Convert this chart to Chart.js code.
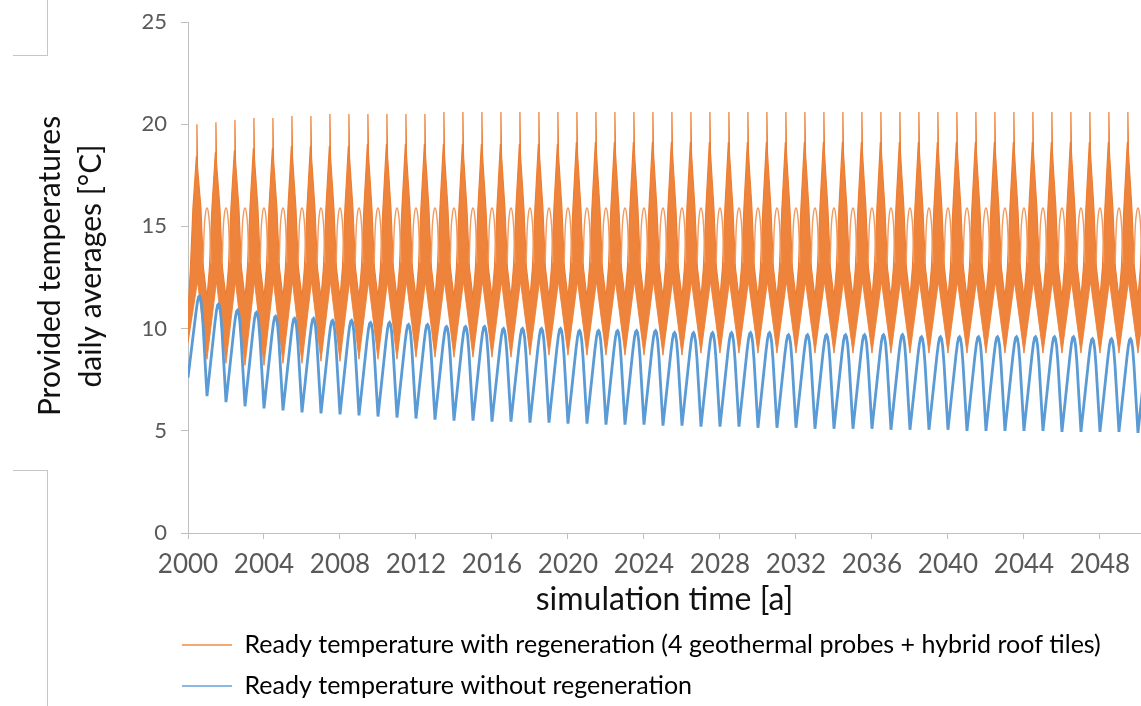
<!DOCTYPE html>
<html>
<head>
<meta charset="utf-8">
<title>Provided temperatures</title>
<script src="https://cdn.jsdelivr.net/npm/chart.js@4.4.1/dist/chart.umd.min.js"></script>
<style>
  html, body { margin: 0; padding: 0; background: #fff; }
  #wrap { position: relative; width: 1141px; height: 706px; }
  .edge { position: absolute; background: #c6c6c6; }
</style>
</head>
<body>
<div id="wrap">
  <canvas id="myChart" width="1141" height="706"></canvas>
  <div class="edge" style="left:47px;top:0;width:1px;height:55px"></div>
  <div class="edge" style="left:13px;top:55px;width:35px;height:1px"></div>
  <div class="edge" style="left:13px;top:470px;width:35px;height:1px"></div>
  <div class="edge" style="left:47px;top:470px;width:1px;height:236px"></div>
</div>
<script>
// one entry per simulated year (cycle starts at the year boundary)
const years = [2000, 2001, 2002, 2003, 2004, 2005, 2006, 2007, 2008, 2009,
  2010, 2011, 2012, 2013, 2014, 2015, 2016, 2017, 2018, 2019,
  2020, 2021, 2022, 2023, 2024, 2025, 2026, 2027, 2028, 2029,
  2030, 2031, 2032, 2033, 2034, 2035, 2036, 2037, 2038, 2039,
  2040, 2041, 2042, 2043, 2044, 2045, 2046, 2047, 2048, 2049, 2050];

// with regeneration (orange): winter low, summer body top, short summer spike
const orangeTrough = [9.3, 8.5, 8.3, 8.2, 8.2, 8.3, 8.3, 8.4, 8.4, 8.5,
  8.5, 8.5, 8.6, 8.6, 8.6, 8.6, 8.6, 8.6, 8.7, 8.7,
  8.7, 8.7, 8.7, 8.7, 8.7, 8.7, 8.7, 8.8, 8.8, 8.8,
  8.8, 8.8, 8.8, 8.8, 8.8, 8.8, 8.8, 8.8, 8.8, 8.8,
  8.8, 8.8, 8.8, 8.8, 8.8, 8.8, 8.8, 8.8, 8.8, 8.8, 8.8];
const orangeBody = [18.4, 18.6, 18.7, 18.8, 18.8, 18.9, 18.9, 18.9, 18.9, 19.0,
  19.0, 19.0, 19.0, 19.0, 19.0, 19.0, 19.0, 19.0, 19.0, 19.0,
  19.1, 19.1, 19.1, 19.1, 19.1, 19.1, 19.1, 19.1, 19.1, 19.1,
  19.1, 19.1, 19.1, 19.1, 19.1, 19.1, 19.1, 19.1, 19.1, 19.1,
  19.1, 19.1, 19.1, 19.1, 19.1, 19.1, 19.1, 19.1, 19.1, 19.1, 19.1];
const orangeSpike = [20.0, 20.1, 20.2, 20.3, 20.3, 20.4, 20.4, 20.5, 20.5, 20.5,
  20.5, 20.5, 20.5, 20.6, 20.6, 20.6, 20.6, 20.6, 20.6, 20.6,
  20.6, 20.6, 20.6, 20.6, 20.6, 20.6, 20.6, 20.6, 20.6, 20.6,
  20.6, 20.6, 20.6, 20.6, 20.6, 20.6, 20.6, 20.6, 20.6, 20.6,
  20.6, 20.6, 20.6, 20.6, 20.6, 20.6, 20.6, 20.6, 20.6, 20.6, 20.6];
const orangeStartTop = 10.8;     // first day value
const orangeWinterTop = 11.5;    // upper edge of the band around new year
const orangeUnderPeak = 12.3;    // lower edge of the band below the summer peak
// upper edge of one yearly orange cycle: phase and level read off one period
const orangeEdgePhase = [0.13, 0.26, 0.81, 0.68];
const orangeEdgeValue = [13.0, 15.9, 13.0, 15.9];
// thin winter excursion line
const archPhase = [-0.2, -0.14, -0.07, 0, 0.07, 0.14, 0.2];
const archValue = [13.2, 15.0, 15.7, 15.9, 15.7, 15.0, 13.2];

// without regeneration (blue)
const bluePeak = [11.6, 11.2, 10.9, 10.8, 10.6, 10.5, 10.5, 10.4, 10.4, 10.3,
  10.3, 10.2, 10.2, 10.1, 10.1, 10.1, 10.0, 10.0, 10.0, 10.0,
  9.9, 9.9, 9.9, 9.9, 9.9, 9.8, 9.8, 9.8, 9.8, 9.8,
  9.8, 9.7, 9.7, 9.7, 9.7, 9.7, 9.7, 9.7, 9.6, 9.6,
  9.6, 9.6, 9.6, 9.6, 9.6, 9.6, 9.6, 9.5, 9.5, 9.5, 9.5];
const blueTrough = [7.6, 6.7, 6.4, 6.2, 6.1, 6.0, 5.9, 5.85, 5.8, 5.75,
  5.7, 5.65, 5.6, 5.55, 5.5, 5.5, 5.45, 5.45, 5.4, 5.4,
  5.35, 5.35, 5.3, 5.3, 5.3, 5.25, 5.25, 5.2, 5.2, 5.2,
  5.15, 5.15, 5.15, 5.1, 5.1, 5.1, 5.1, 5.05, 5.05, 5.05,
  5.05, 5.0, 5.0, 5.0, 5.0, 5.0, 4.95, 4.95, 4.95, 4.95, 4.9];
// shape of one yearly blue cycle, as share of trough->peak
const bluePhase = [0, 0.42, 0.5, 0.56, 0.61, 0.66, 0.72, 0.79];
const blueShare = [0, 0.8, 0.93, 0.99, 1, 0.98, 0.9, 0.72];

const yTicks = [0, 5, 10, 15, 20, 25];
const xTicks = [2000, 2004, 2008, 2012, 2016, 2020, 2024, 2028, 2032, 2036, 2040, 2044, 2048];

const legendTexts = [
  'Ready temperature with regeneration (4 geothermal probes + hybrid roof tiles)',
  'Ready temperature without regeneration'
];

// build the line points
const upper = [], lower = [], arch = [], blue = [];
years.forEach((yr, i) => {
  const top = i === 0 ? orangeStartTop : orangeWinterTop;
  upper.push({x: yr, y: top});
  upper.push({x: yr + orangeEdgePhase[0], y: Math.max(top, orangeEdgeValue[0])});
  upper.push({x: yr + orangeEdgePhase[1], y: orangeEdgeValue[1]});
  upper.push({x: yr + 0.44, y: orangeBody[i]});
  upper.push({x: yr + 0.47, y: orangeSpike[i]});
  upper.push({x: yr + 0.5, y: orangeBody[i] - 0.5});
  upper.push({x: yr + orangeEdgePhase[3], y: orangeEdgeValue[3]});
  upper.push({x: yr + orangeEdgePhase[2], y: orangeEdgeValue[2]});
  lower.push({x: yr, y: orangeTrough[i]});
  lower.push({x: yr + 0.5, y: orangeUnderPeak});
  if (i > 0) {
    archPhase.forEach((p, k) => arch.push({x: yr + p, y: archValue[k]}));
    arch.push({x: yr + 0.3, y: null});
  }
  const next = i + 1 < years.length ? blueTrough[i + 1] : blueTrough[i];
  bluePhase.forEach((p, k) => {
    const base = p <= 0.61 ? blueTrough[i] : next;
    blue.push({x: yr + p, y: base + blueShare[k] * (bluePeak[i] - base)});
  });
});

const orange = '#ED7D31';
const blueCol = '#5B9BD5';
Chart.defaults.font.family = 'Lato';

// put the legend rows where the original has them
const legendNudge = {
  id: 'legendNudge',
  afterLayout(chart) {
    const lg = chart.legend;
    lg.left = 166;
    lg.top = 616.5;
  }
};

new Chart(document.getElementById('myChart'), {
  type: 'line',
  data: {
    datasets: [
      {
        label: legendTexts[0],
        data: upper,
        borderColor: orange,
        borderWidth: 1.2,
        backgroundColor: 'rgba(237,125,49,0.95)',
        fill: '+1',
        pointRadius: 0,
        order: 0
      },
      {
        label: 'lower',
        data: lower,
        borderColor: 'rgba(237,125,49,0.85)',
        borderWidth: 1,
        fill: false,
        pointRadius: 0,
        order: 0
      },
      {
        label: 'arch',
        data: arch,
        borderColor: '#F29B60',
        borderWidth: 1.4,
        fill: false,
        tension: 0.3,
        spanGaps: false,
        pointRadius: 0,
        order: -0.5
      },
      {
        label: legendTexts[1],
        data: blue,
        borderColor: blueCol,
        borderWidth: 2.8,
        fill: false,
        pointRadius: 0,
        order: -1
      }
    ]
  },
  options: {
    responsive: false,
    devicePixelRatio: 1,
    animation: false,
    events: [],
    layout: { padding: { top: 22, right: 0, bottom: -9, left: 0 } },
    plugins: {
      tooltip: { enabled: false },
      legend: {
        position: 'bottom',
        align: 'start',
        fullSize: false,
        labels: {
          usePointStyle: true,
          pointStyleWidth: 50,
          padding: 16,
          color: '#262626',
          font: { size: 25 },
          generateLabels: () => [
            { text: legendTexts[0], strokeStyle: '#F2A873', fillStyle: '#F2A873', lineWidth: 2, pointStyle: 'line', hidden: false, datasetIndex: 0 },
            { text: legendTexts[1], strokeStyle: '#8AB8E0', fillStyle: '#8AB8E0', lineWidth: 2, pointStyle: 'line', hidden: false, datasetIndex: 3 }
          ]
        }
      }
    },
    scales: {
      x: {
        type: 'linear',
        min: years[0],
        max: 2050.16,
        afterFit: s => { s.height = 90; },
        afterBuildTicks: s => { s.ticks = xTicks.map(v => ({ value: v })); },
        ticks: {
          autoSkip: false,
          maxRotation: 0,
          padding: 10,
          color: '#595959',
          font: { size: 26 },
          callback: v => String(v)
        },
        grid: { drawOnChartArea: false, drawTicks: true, tickLength: 6, color: '#BFBFBF' },
        border: { color: '#BFBFBF' },
        title: {
          display: true,
          text: 'simulation time [a]',
          color: '#111',
          font: { size: 32 },
          padding: { top: 0, bottom: 4 }
        }
      },
      y: {
        min: 0,
        max: 25,
        afterFit: s => { s.width = 188; s.paddingTop = 0; },
        afterBuildTicks: s => { s.ticks = yTicks.map(v => ({ value: v })); },
        ticks: {
          color: '#595959',
          font: { size: 22 },
          padding: 14
        },
        grid: { drawOnChartArea: false, drawTicks: true, tickLength: 7, color: '#BFBFBF' },
        border: { color: '#BFBFBF' },
        title: {
          display: true,
          text: ['   Provided temperatures', '   daily averages [°C]'],
          color: '#111',
          font: { size: 30, lineHeight: 1.37 },
          padding: { top: 30, bottom: 0 }
        }
      }
    }
  },
  plugins: [legendNudge]
});
</script>
</body>
</html>
